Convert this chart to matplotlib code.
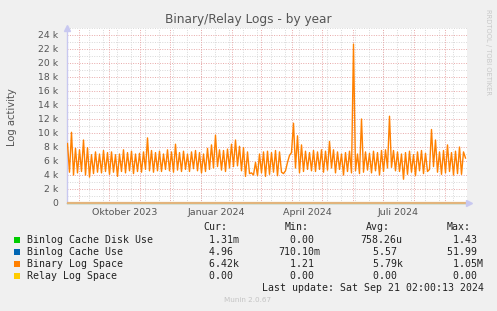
import datetime as dt
import matplotlib
matplotlib.use("Agg")
import matplotlib.pyplot as plt
from matplotlib.patches import Rectangle

# ---------------- data ----------------
title = "Binary/Relay Logs - by year"
ylabel = "Log activity"
start_day = dt.datetime(2023, 8, 19, 17, 0)
step_days = 2
# Binary Log Space, thousands, one value per 2 days
binary_log_k = [
    8.5, 4.4, 10.1, 4.0, 7.8, 4.3, 7.6, 4.5, 9.0, 4.0,
    7.9, 3.7, 6.9, 4.2, 7.3, 4.4, 7.0, 4.3, 7.5, 4.5,
    7.2, 4.1, 7.3, 4.4, 6.9, 3.8, 7.0, 4.5, 7.6, 4.3,
    7.2, 4.6, 7.4, 4.2, 7.0, 4.5, 7.1, 4.4, 7.3, 4.8,
    9.3, 4.6, 7.5, 4.4, 7.2, 4.6, 7.4, 4.5, 7.0, 4.8,
    7.6, 4.6, 7.3, 4.4, 8.4, 4.7, 7.2, 4.5, 7.4, 4.8,
    7.0, 4.5, 7.3, 4.9, 7.5, 4.6, 7.2, 4.3, 7.0, 4.5,
    7.8, 4.8, 8.3, 5.0, 9.7, 5.2, 7.6, 4.7, 7.5, 4.5,
    7.7, 5.0, 8.4, 5.2, 9.0, 5.3, 8.1, 4.6, 7.9, 3.8,
    7.3, 4.2, 4.3, 4.0, 5.8, 3.9, 7.0, 4.3, 7.3, 3.8,
    7.4, 4.1, 7.2, 4.4, 7.5, 3.9, 7.3, 4.4, 4.2, 4.6,
    5.8, 6.8, 7.2, 11.4, 5.0, 9.6, 4.3, 8.3, 4.5, 7.4,
    4.8, 7.2, 4.6, 7.5, 4.5, 7.3, 4.8, 7.6, 4.4, 7.4,
    4.7, 8.8, 5.0, 7.6, 4.3, 7.3, 4.8, 7.0, 4.0, 7.2,
    4.5, 7.4, 4.3, 22.7, 4.6, 7.0, 4.2, 12.0, 4.4, 7.3,
    4.7, 7.1, 4.3, 7.4, 4.6, 7.2, 4.0, 7.5, 4.5, 7.6,
    5.0, 12.4, 5.1, 7.5, 4.6, 7.3, 4.5, 7.0, 3.4, 7.2,
    4.1, 7.4, 4.4, 6.9, 3.9, 7.3, 4.6, 7.5, 4.2, 7.1,
    4.5, 4.8, 10.5, 5.2, 9.0, 4.4, 7.3, 4.1, 7.5, 4.3,
    8.3, 4.5, 7.2, 4.0, 7.4, 4.2, 8.0, 4.1, 7.3, 6.42,
]
# near-zero series (drawn across full range)
binlog_cache_disk_use = [0.0, 0.0]
binlog_cache_use = [5.0, 5.0]
relay_log_space = [0.0, 0.0]

series_names = ["Binlog Cache Disk Use", "Binlog Cache Use", "Binary Log Space", "Relay Log Space"]
series_colors = ["#00CC00", "#0066B3", "#FF8000", "#FFCC00"]
cur_vals = ["1.31m", "4.96", "6.42k", "0.00"]
min_vals = ["0.00", "710.10m", "1.21", "0.00"]
avg_vals = ["758.26u", "5.57", "5.79k", "0.00"]
max_vals = ["1.43", "51.99", "1.05M", "0.00"]
ytick_vals = list(range(0, 25000, 2000))
xlabel_months = [(2023, 10, "Oktober 2023"), (2024, 1, "Januar 2024"),
                 (2024, 4, "April 2024"), (2024, 7, "Juli 2024")]
last_update = "Last update: Sat Sep 21 02:00:13 2024"

# ---------------- figure ----------------
W, H = 497, 311
fig = plt.figure(figsize=(W / 100, H / 100), dpi=100, facecolor="#F0F0F0")
L, R, T, B = 67, 467, 28, 203
ax = fig.add_axes([L / W, 1 - B / H, (R - L) / W, (B - T) / H])
ax.set_facecolor("white")

end_day = start_day + dt.timedelta(days=400)
ax.set_xlim(start_day, end_day)
ax.set_ylim(0, 25000)

grey = "#d8d8d8"
red = "#e8a8a8"
for v in range(1000, 26000, 2000):
    ax.axhline(v, color=grey, lw=0.7, ls=(0, (1, 1.5)), zorder=1)
for v in range(2000, 25000, 2000):
    ax.axhline(v, color=red, lw=0.7, ls=(0, (1, 1.5)), zorder=1.1)
d = dt.datetime(2023, 9, 11)
while d < end_day:
    ax.axvline(d, color=grey, lw=0.7, ls=(0, (1, 1.5)), zorder=1)
    d += dt.timedelta(days=14)
y, m = 2023, 9
while True:
    d = dt.datetime(y, m, 1)
    if d > end_day:
        break
    ax.axvline(d, color=red, lw=0.7, ls=(0, (1, 1.5)), zorder=1.1)
    m += 1
    if m > 12:
        m = 1
        y += 1

# series
times = [start_day + dt.timedelta(days=step_days * i + 0.5) for i in range(len(binary_log_k))]
ends = [start_day, end_day]
ax.plot(ends, binlog_cache_disk_use, color=series_colors[0], lw=0.8, zorder=2, clip_on=False)
ax.plot(ends, binlog_cache_use, color=series_colors[1], lw=0.8, zorder=2, clip_on=False)
ax.plot(times, [v * 1000 for v in binary_log_k], color=series_colors[2], lw=1.0, zorder=4)
ax.plot(ends, relay_log_space, color="#E2B47C", lw=1.6, zorder=5, clip_on=False,
        solid_capstyle="butt")

# spines
for s in ["top", "right", "bottom"]:
    ax.spines[s].set_visible(False)
ax.spines["left"].set_color("#c8c8f0")
ax.spines["left"].set_linewidth(1.0)
ax.plot([0], [1.0], marker="^", color="#c8c8f0", markersize=4, transform=ax.transAxes,
        clip_on=False, zorder=6)
ax.plot([1.005], [0], marker=">", color="#c8c8f0", markersize=4, transform=ax.transAxes,
        clip_on=False, zorder=6)

# ticks
ax.set_yticks(ytick_vals)
ax.set_yticklabels(["0" if v == 0 else f"{v // 1000} k" for v in ytick_vals])
xpos = [dt.datetime(yy, mm, 16) for yy, mm, _ in xlabel_months]
ax.set_xticks(xpos)
ax.set_xticklabels([lab for _, _, lab in xlabel_months])
ax.tick_params(axis="both", length=0, labelsize=6.8, colors="#555555")
ax.tick_params(axis="y", pad=6.5, labelsize=6.7)
ax.tick_params(axis="x", pad=3.5)

fig.text(12 / W, 1 - 117 / H, ylabel, rotation=90, ha="center", va="center",
         fontsize=7.2, color="#555555")
fig.text(248 / W, 1 - 20 / H, title, ha="center", va="center", fontsize=8.7, color="#555555")
fig.text(488 / W, 1 - 52 / H, "RRDTOOL / TOBI OETIKER", rotation=270, ha="center",
         va="center", fontsize=4.9, color="#c8c8c8")

# legend
mono = dict(family="DejaVu Sans Mono", fontsize=7.1, color="#222222", va="center", ha="left")
hy = 227.3
for xh, lab in [(203.3, "Cur:"), (285, "Min:"), (366, "Avg:"), (446.7, "Max:")]:
    fig.text(xh / W, 1 - hy / H, lab, **mono)

def fmt(s):
    if s[-1].isalpha():
        return f"{s[:-1]:>6}{s[-1]}"
    return f"{s:>6} "

row_y = [240, 252, 264, 275.7]
col_x = [197.4, 278.3, 360.7, 441.0]
for i, name in enumerate(series_names):
    yy = row_y[i]
    fig.add_artist(Rectangle((14 / W, 1 - (yy + 3) / H), 6 / W, 6 / H,
                             transform=fig.transFigure, color=series_colors[i], lw=0))
    fig.text(26.7 / W, 1 - yy / H, name, **mono)
    for cx, vals in zip(col_x, [cur_vals, min_vals, avg_vals, max_vals]):
        fig.text(cx / W, 1 - yy / H, fmt(vals[i]), **mono)

fig.text(261.7 / W, 1 - 288 / H, last_update, **mono)
fig.text(248 / W, 1 - 300.5 / H, "Munin 2.0.67", ha="center", va="center",
         fontsize=5.2, color="#c4c4c4")

fig.savefig("out.png", dpi=100, facecolor=fig.get_facecolor())
